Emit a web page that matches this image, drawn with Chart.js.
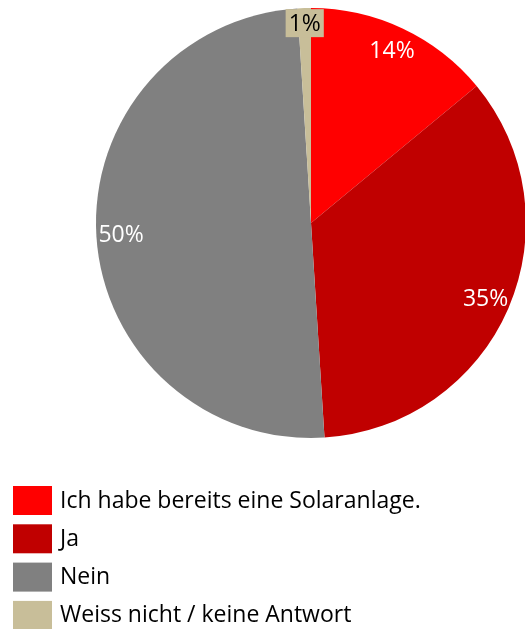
<!DOCTYPE html>
<html lang="de">
<head>
<meta charset="UTF-8">
<title>Solaranlage</title>
<script src="https://cdn.jsdelivr.net/npm/chart.js"></script>
<style>
  html, body { margin: 0; padding: 0; background: #fff; overflow: hidden; }
  #wrap { position: relative; width: 560px; height: 629px; }
</style>
</head>
<body>
<div id="wrap"><canvas id="pie"></canvas></div>
<script>
const categories = ['Ich habe bereits eine Solaranlage.', 'Ja', 'Nein', 'Weiss nicht / keine Antwort'];
const shares = [14, 35, 50, 1];
const colors = ['#FF0000', '#C00000', '#808080', '#C8BE99'];
const labelColors = ['#FFFFFF', '#FFFFFF', '#FFFFFF', '#000000'];

const FONT = '"Open Sans", "Noto Sans", sans-serif';

// Prozentwerte auf den Segmenten
const sliceLabels = {
  id: 'sliceLabels',
  afterDatasetsDraw(chart) {
    const ctx = chart.ctx;
    const meta = chart.getDatasetMeta(0);
    ctx.save();
    ctx.font = '23px ' + FONT;
    ctx.textAlign = 'center';
    ctx.textBaseline = 'middle';
    meta.data.forEach((arc, i) => {
      const p = arc.getProps(['x', 'y', 'startAngle', 'endAngle', 'outerRadius']);
      const mid = (p.startAngle + p.endAngle) / 2;
      const small = shares[i] < 5;
      const r = p.outerRadius * (small ? 0.93 : 0.885);
      const x = p.x + Math.cos(mid) * r;
      const y = p.y + Math.sin(mid) * r;
      const txt = shares[i] + '%';
      if (small) {
        const w = ctx.measureText(txt).width + 6;
        ctx.fillStyle = colors[i];
        ctx.fillRect(x - w / 2, y - 14, w, 28);
      }
      ctx.fillStyle = labelColors[i];
      ctx.fillText(txt, x, y + 1);
    });
    ctx.restore();
  }
};

// Legende unten links, untereinander
const boxLegend = {
  id: 'boxLegend',
  afterDraw(chart) {
    const ctx = chart.ctx;
    ctx.save();
    ctx.font = '23px ' + FONT;
    ctx.textBaseline = 'middle';
    categories.forEach((c, i) => {
      const top = 486 + i * 38.3;
      ctx.fillStyle = colors[i];
      ctx.fillRect(13, top, 39, 29);
      ctx.fillStyle = '#000';
      ctx.fillText(c, 60, top + 15);
    });
    ctx.restore();
  }
};

new Chart(document.getElementById('pie'), {
  type: 'pie',
  data: {
    labels: categories,
    datasets: [{
      data: shares,
      backgroundColor: colors,
      borderWidth: 0
    }]
  },
  options: {
    responsive: true,
    maintainAspectRatio: false,
    animation: false,
    layout: { padding: { top: 8, bottom: 191, left: 96, right: 34 } },
    plugins: {
      legend: { display: false },
      tooltip: { enabled: false }
    }
  },
  plugins: [sliceLabels, boxLegend]
});
</script>
</body>
</html>
